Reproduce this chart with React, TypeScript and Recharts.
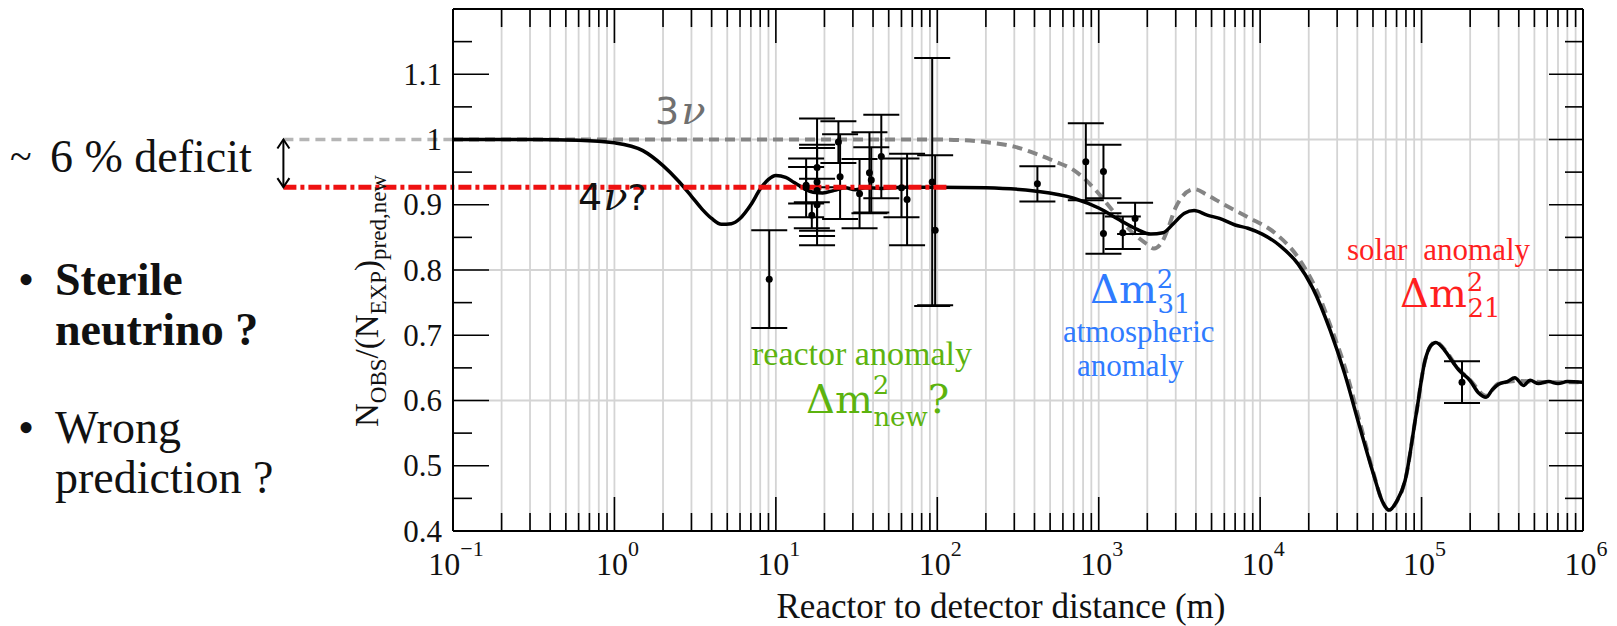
import { ComposedChart, Line, Scatter, ErrorBar, XAxis, YAxis, CartesianGrid, ReferenceLine } from "recharts";

// 4-neutrino (sterile) expectation vs distance
const fourNuL = [0.1, 0.3, 0.6, 1, 1.5, 2, 2.5, 3, 3.5, 4, 4.6, 5.3, 6, 7, 8, 9, 10, 11.5, 13, 15, 17, 19.5, 23, 27, 31, 36, 45, 60, 100, 200, 400, 700, 1000, 1340, 1700, 2100, 2500, 2900, 3400, 3900, 4700, 5600, 7000, 8400, 10300, 13300, 17200, 21100, 27200, 33400, 40900, 50200, 57000, 63000, 70000, 79000, 92700, 105000, 114000, 122600, 139000, 155000, 171000, 199000, 225000, 251000, 275000, 300000, 340000, 378000, 428000, 470000, 530000, 613000, 700000, 800000, 1000000];
const fourNu = [1.0, 1.0, 0.999, 0.995, 0.983, 0.96, 0.936, 0.913, 0.893, 0.879, 0.87, 0.871, 0.879, 0.9, 0.924, 0.939, 0.945, 0.942, 0.934, 0.925, 0.919, 0.918, 0.922, 0.926, 0.923, 0.926, 0.925, 0.927, 0.927, 0.926, 0.921, 0.91, 0.895, 0.877, 0.863, 0.855, 0.857, 0.871, 0.887, 0.891, 0.884, 0.879, 0.869, 0.864, 0.855, 0.837, 0.809, 0.773, 0.707, 0.641, 0.564, 0.488, 0.446, 0.432, 0.445, 0.477, 0.58, 0.661, 0.684, 0.689, 0.677, 0.66, 0.646, 0.631, 0.612, 0.605, 0.617, 0.625, 0.629, 0.635, 0.623, 0.631, 0.626, 0.629, 0.626, 0.629, 0.628];

// standard 3-neutrino expectation
const threeNuL = [0.1, 100, 200, 300, 410, 540, 700, 840, 960, 1220, 1640, 1980, 2200, 2470, 2700, 3000, 3900, 4700, 5900, 8400, 12600, 17200, 23400, 27200, 33400, 40900, 50200, 57000, 63000, 70000, 79000, 92700, 105000, 114000, 122600, 139000, 171000, 199000, 251000, 300000, 400000, 600000, 1000000];
const threeNu = [1.0, 1.0, 0.996, 0.989, 0.978, 0.966, 0.953, 0.937, 0.922, 0.891, 0.856, 0.84, 0.833, 0.843, 0.865, 0.896, 0.924, 0.915, 0.901, 0.881, 0.855, 0.819, 0.758, 0.715, 0.652, 0.572, 0.49, 0.446, 0.432, 0.445, 0.477, 0.58, 0.661, 0.684, 0.69, 0.678, 0.647, 0.632, 0.607, 0.626, 0.63, 0.628, 0.628];

// reactor experiments: distance, ratio, error
const expL = [9.1, 15.4, 15.4, 16.7, 18, 18, 18, 18, 24.4, 25, 33, 38, 39, 45, 60, 65, 93, 97, 417, 832, 1070, 1070, 1410, 1680, 178000];
const expRatio = [0.786, 0.926, 0.93, 0.884, 0.957, 0.935, 0.9, 0.922, 0.996, 0.943, 0.917, 0.949, 0.938, 0.974, 0.926, 0.908, 0.935, 0.861, 0.932, 0.966, 0.951, 0.856, 0.857, 0.879, 0.628];
const expErr = [0.075, 0.045, 0.028, 0.02, 0.03, 0.097, 0.04, 0.07, 0.032, 0.065, 0.053, 0.062, 0.05, 0.064, 0.045, 0.07, 0.19, 0.115, 0.027, 0.059, 0.041, 0.031, 0.025, 0.024, 0.032];

const decades = [0.1, 1, 10, 100, 1000, 10000, 100000, 1000000];
const minorMult = [2, 3, 4, 5, 6, 7, 8, 9];
const yTicks = [0.4, 0.45, 0.5, 0.55, 0.6, 0.65, 0.7, 0.75, 0.8, 0.85, 0.9, 0.95, 1, 1.05, 1.1, 1.15, 1.2];
const yLabeled = [0.4, 0.5, 0.6, 0.7, 0.8, 0.9, 1, 1.1];
const yGrid = [0.4, 0.6, 0.8, 1.0, 1.2];

const noDeficit = 1;
const deficitLevel = 0.927;
const markerL = 0.0089; // left end of the deficit marker, outside the frame
const plateauEndL = 120;

const xTicks = decades.flatMap((d, i) => (i < decades.length - 1 ? [d, ...minorMult.map((m) => m * d)] : [d]));
const fourNuData = fourNuL.map((L, i) => ({ L, r: fourNu[i] }));
const threeNuData = threeNuL.map((L, i) => ({ L, r: threeNu[i] }));
const expData = expL.map((L, i) => ({ L, r: expRatio[i], err: expErr[i] }));

const SERIF = "'Liberation Serif', 'Times New Roman', serif";
const DSANS = "'DejaVu Sans', sans-serif";
const DSERIF = "'DejaVu Serif', serif";
const isDecade = (v: number) => decades.some((d) => Math.abs(d - v) / d < 1e-9);
const isMajorY = (v: number) => Math.abs(v * 10 - Math.round(v * 10)) < 1e-6;

const BottomTick = (props: any) => {
  const { x, y, payload } = props;
  const v = payload.value;
  const major = isDecade(v);
  const exp = Math.round(Math.log10(v));
  return (
    <g>
      <line x1={x} x2={x} y1={y} y2={y - (major ? 34 : 18)} stroke="#000" strokeWidth={1.6} />
      {major && (
        <text x={x + 3} y={y + 44} textAnchor="middle" fontFamily={SERIF} fontSize={32} fill="#111">
          10
          <tspan dy={-19} fontSize={22}>{exp < 0 ? `\u2212${-exp}` : String(exp)}</tspan>
        </text>
      )}
    </g>
  );
};

const TopTick = (props: any) => {
  const { x, y, payload } = props;
  const major = isDecade(payload.value);
  return <line x1={x} x2={x} y1={y} y2={y + (major ? 34 : 18)} stroke="#000" strokeWidth={1.6} />;
};

const LeftTick = (props: any) => {
  const { x, y, payload } = props;
  const v = payload.value;
  const major = isMajorY(v);
  const labeled = yLabeled.some((t) => Math.abs(t - v) < 1e-6);
  return (
    <g>
      <line x1={x} x2={x + (major ? 36 : 19)} y1={y} y2={y} stroke="#000" strokeWidth={1.6} />
      {labeled && (
        <text x={x - 11} y={y} dy="0.34em" textAnchor="end" fontFamily={SERIF} fontSize={31} fill="#111">
          {v === 1 ? "1" : v.toFixed(1)}
        </text>
      )}
    </g>
  );
};

const RightTick = (props: any) => {
  const { x, y, payload } = props;
  const major = isMajorY(payload.value);
  return <line x1={x} x2={x - (major ? 34 : 18)} y1={y} y2={y} stroke="#000" strokeWidth={1.6} />;
};

const Dot = (p: any) => <circle cx={p.cx} cy={p.cy} r={3.5} fill="#000" />;

const DoubleArrow = (p: any) => {
  const { x1, y1, x2, y2 } = p;
  const h = 9;
  const w = 6;
  return (
    <g stroke="#000" strokeWidth={2} fill="none">
      <line x1={x1} y1={y1} x2={x2} y2={y2} />
      <polyline points={`${x1 - w},${y1 + h} ${x1},${y1} ${x1 + w},${y1 + h}`} />
      <polyline points={`${x2 - w},${y2 - h} ${x2},${y2} ${x2 + w},${y2 - h}`} />
    </g>
  );
};

const axisLine = { stroke: "#000", strokeWidth: 2 };

export default function App() {
  return (
    <div style={{ position: "absolute", left: 0, top: 0, width: 1617, height: 626, background: "#fff" }}>
      <ComposedChart width={1617} height={626} margin={{ top: 8, right: 33, bottom: 35, left: 393 }}>
        <CartesianGrid xAxisId="x" yAxisId="y" stroke="#d4d4d4" strokeWidth={1.8} horizontalValues={yGrid} verticalValues={xTicks} />
        <XAxis xAxisId="x" dataKey="L" type="number" scale="log" domain={[0.1, 1e6]} ticks={xTicks} interval={0} allowDataOverflow
          tick={<BottomTick />} tickSize={0} tickMargin={0} tickLine={false} axisLine={axisLine} height={60} />
        <XAxis xAxisId="top" orientation="top" dataKey="L" type="number" scale="log" domain={[0.1, 1e6]} ticks={xTicks} interval={0} allowDataOverflow
          tick={<TopTick />} tickSize={0} tickMargin={0} tickLine={false} axisLine={axisLine} height={1} />
        <YAxis yAxisId="y" dataKey="r" type="number" domain={[0.4, 1.2]} ticks={yTicks} interval={0} allowDataOverflow
          tick={<LeftTick />} tickSize={0} tickMargin={0} tickLine={false} axisLine={axisLine} width={60} />
        <YAxis yAxisId="right" orientation="right" dataKey="r" type="number" domain={[0.4, 1.2]} ticks={yTicks} interval={0} allowDataOverflow
          tick={<RightTick />} tickSize={0} tickMargin={0} tickLine={false} axisLine={axisLine} width={1} />
        <Line xAxisId="x" yAxisId="y" data={threeNuData} dataKey="r" type="monotone" stroke="#858585" strokeWidth={4}
          strokeDasharray="10 6" dot={false} isAnimationActive={false} />
        <Line xAxisId="x" yAxisId="y" data={fourNuData} dataKey="r" type="monotone" stroke="#000" strokeWidth={3.5}
          dot={false} isAnimationActive={false} />
        <Scatter xAxisId="x" yAxisId="y" data={expData} dataKey="r" fill="#000" shape={<Dot />} isAnimationActive={false}>
          <ErrorBar dataKey="err" direction="y" width={18} stroke="#000" strokeWidth={2} isAnimationActive={false} />
        </Scatter>
        <ReferenceLine xAxisId="x" yAxisId="y" segment={[{ x: markerL, y: noDeficit }, { x: 0.1, y: noDeficit }]}
          stroke="#b5b5b5" strokeWidth={3.5} strokeDasharray="10 6" ifOverflow="visible" />
        <ReferenceLine xAxisId="x" yAxisId="y" segment={[{ x: markerL, y: deficitLevel }, { x: plateauEndL, y: deficitLevel }]}
          stroke="#ee1111" strokeWidth={5} strokeDasharray="13 4 4 4" ifOverflow="visible" />
        <ReferenceLine xAxisId="x" yAxisId="y" segment={[{ x: markerL, y: noDeficit }, { x: markerL, y: deficitLevel }]}
          shape={DoubleArrow} ifOverflow="visible" />
      </ComposedChart>

      <svg width={1617} height={626} style={{ position: "absolute", left: 0, top: 0, pointerEvents: "none" }} fontFamily={SERIF}>
        {/* left-hand slide text */}
        <text x={10} y={170} fontSize={40} fill="#111">~</text>
        <text x={50} y={172} fontSize={46} fill="#111">6 % deficit</text>
        <text x={18} y={295} fontSize={46} fill="#111">•</text>
        <text x={55} y={295} fontSize={46} fontWeight="bold" fill="#111">Sterile</text>
        <text x={55} y={345} fontSize={46} fontWeight="bold" fill="#111">neutrino ?</text>
        <text x={18} y={443} fontSize={46} fill="#111">•</text>
        <text x={55} y={443} fontSize={46} fill="#111">Wrong</text>
        <text x={55} y={493} fontSize={46} fill="#111">prediction ?</text>

        {/* axis titles */}
        <text transform="translate(378,427) rotate(-90)" fontSize={33} fill="#111">
          N<tspan dy={8} fontSize={23}>OBS</tspan>
          <tspan dy={-8}>/(N</tspan>
          <tspan dy={8} fontSize={23}>EXP</tspan>
          <tspan dy={-8}>)</tspan>
          <tspan dy={8} fontSize={23}>pred,new</tspan>
        </text>
        <text x={1001} y={618} textAnchor="middle" fontSize={35} fill="#111">Reactor to detector distance (m)</text>

        {/* curve labels */}
        <text x={655} y={124} fill="#707070">
          <tspan fontFamily={DSANS} fontSize={38}>3</tspan>
          <tspan fontFamily={DSERIF} fontStyle="italic" fontSize={40} dx={2}>ν</tspan>
        </text>
        <text x={578} y={210} fill="#111">
          <tspan fontFamily={DSANS} fontSize={38}>4</tspan>
          <tspan fontFamily={DSERIF} fontStyle="italic" fontSize={40} dx={1}>ν</tspan>
          <tspan fontFamily={DSANS} fontSize={36}>?</tspan>
        </text>

        {/* oscillation annotations */}
        <text x={752} y={365} fontSize={34} fill="#5cb30e">reactor anomaly</text>
        <text x={806} y={413} fill="#5cb30e" fontFamily={DSERIF}>
          <tspan fontSize={40}>Δm</tspan>
          <tspan dy={-19} fontSize={26}>2</tspan>
          <tspan dx={-16} dy={32} fontSize={26}>new</tspan>
          <tspan dy={-13} fontSize={40}>?</tspan>
        </text>

        <text x={1090} y={303} fill="#2f7bff" fontFamily={DSERIF}>
          <tspan fontSize={40}>Δm</tspan>
          <tspan dy={-15} fontSize={26}>2</tspan>
          <tspan dx={-16} dy={25} fontSize={26}>31</tspan>
        </text>
        <text x={1063} y={342} fontSize={31} fill="#2f7bff">atmospheric</text>
        <text x={1077} y={376} fontSize={31} fill="#2f7bff">anomaly</text>

        <text x={1347} y={260} fontSize={31} fill="#ff1f1f">solar<tspan dx={16}>anomaly</tspan></text>
        <text x={1400} y={307} fill="#ff1f1f" fontFamily={DSERIF}>
          <tspan fontSize={40}>Δm</tspan>
          <tspan dy={-16} fontSize={26}>2</tspan>
          <tspan dx={-16} dy={26} fontSize={26}>21</tspan>
        </text>
      </svg>
    </div>
  );
}
